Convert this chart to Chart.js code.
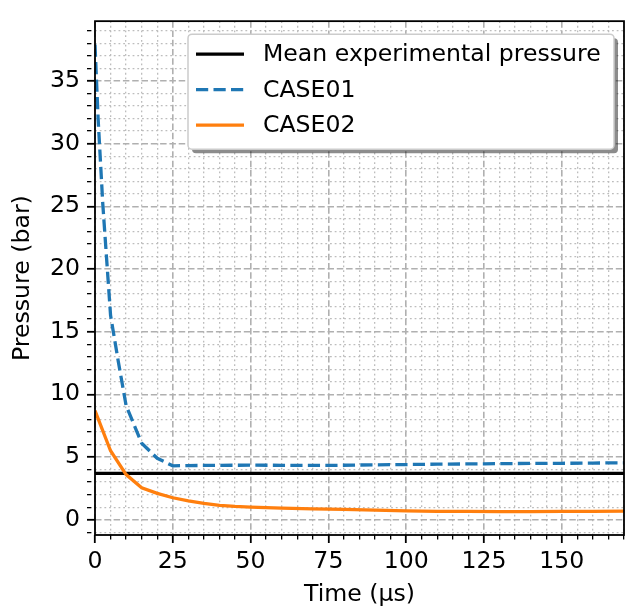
<!DOCTYPE html>
<html lang="en">
<head>
  <meta charset="UTF-8">
  <title>Pressure vs time</title>
  <script src="https://cdn.jsdelivr.net/npm/chart.js"></script>
  <style>
    html, body { margin: 0; padding: 0; background: #fff; }
  </style>
</head>
<body>
  <canvas id="grafico" width="630" height="609"></canvas>

  <script>
    // data
    const meanTime = [0, 170];
    const meanPressure = [3.7, 3.7];

    const timeCase01 = [0, 1, 2.5, 5, 7.5, 10, 15, 20, 25, 30, 40, 50, 60, 75, 90, 100, 110, 125, 140, 150, 160, 170];
    const case01 = [37.9, 32.0, 25.2, 16.3, 12.6, 9.1, 6.1, 4.9, 4.3, 4.32, 4.34, 4.35, 4.34, 4.33, 4.38, 4.4, 4.43, 4.46, 4.49, 4.5, 4.52, 4.54];

    const timeCase02 = [0, 5, 10, 15, 20, 25, 30, 35, 40, 45, 50, 55, 60, 70, 80, 90, 100, 110, 120, 130, 140, 150, 160, 170];
    const case02 = [8.7, 5.5, 3.6, 2.55, 2.1, 1.75, 1.5, 1.3, 1.15, 1.06, 1.0, 0.96, 0.92, 0.87, 0.83, 0.77, 0.7, 0.67, 0.66, 0.65, 0.65, 0.66, 0.67, 0.68];

    // ticks
    const xMajorTicks = [0, 25, 50, 75, 100, 125, 150];
    const yMajorTicks = [0, 5, 10, 15, 20, 25, 30, 35];
    const xMinorStep = 5;
    const yMinorStep = 1;
    const xRange = [0, 170];
    const yRange = [-1.22, 39.77];

    const FONT = 'DejaVu Sans';
    const SIZE = 23.6;
    const toPoints = (xs, ys) => xs.map((x, i) => ({ x: x, y: ys[i] }));
    const stepTicks = (lo, hi, step) => {
      const out = [];
      for (let v = Math.ceil(lo / step) * step; v <= hi; v += step) out.push({ value: v });
      return out;
    };

    function axisStyle(major) {
      const isMajor = ctx => ctx.tick && major.includes(ctx.tick.value);
      return {
        grid: {
          color: ctx => isMajor(ctx) ? '#b0b0b0' : '#bdbdbd',
          lineWidth: ctx => isMajor(ctx) ? 1.6 : 1.3,
          tickColor: '#000',
          tickLength: 8,
          tickWidth: ctx => isMajor(ctx) ? 1.8 : 1.3,
          tickBorderDash: ctx => isMajor(ctx) ? [] : [4.4, 30]
        },
        border: {
          display: false,
          dash: ctx => isMajor(ctx) ? [6.5, 2.8] : [1.8, 2.9]
        }
      };
    }

    // frame on four sides + legend box with shadow
    const framePlugin = {
      id: 'frame',
      afterDraw(chart) {
        const ctx = chart.ctx;
        const a = chart.chartArea;
        ctx.save();
        ctx.strokeStyle = '#000';
        ctx.lineWidth = 1.8;
        ctx.strokeRect(a.left, a.top, a.right - a.left, a.bottom - a.top);

        const bw = 426, bh = 115;
        const bx = a.right - 10 - bw, by = a.top + 13;
        const round = (x, y, w, h, r) => {
          ctx.beginPath();
          ctx.moveTo(x + r, y);
          ctx.arcTo(x + w, y, x + w, y + h, r);
          ctx.arcTo(x + w, y + h, x, y + h, r);
          ctx.arcTo(x, y + h, x, y, r);
          ctx.arcTo(x, y, x + w, y, r);
          ctx.closePath();
        };
        round(bx + 4, by + 4, bw, bh, 4);
        ctx.fillStyle = 'rgba(0,0,0,0.45)';
        ctx.fill();
        round(bx, by, bw, bh, 4);
        ctx.fillStyle = '#fff';
        ctx.fill();
        ctx.strokeStyle = '#cccccc';
        ctx.lineWidth = 1.5;
        ctx.stroke();

        ctx.font = SIZE + 'px "' + FONT + '"';
        ctx.textBaseline = 'middle';
        ctx.fillStyle = '#000';
        chart.data.datasets.forEach((ds, i) => {
          const y = by + 20 + i * 35.5;
          ctx.beginPath();
          ctx.setLineDash(ds.borderDash || []);
          ctx.strokeStyle = ds.borderColor;
          ctx.lineWidth = ds.borderWidth;
          ctx.moveTo(bx + 8, y);
          ctx.lineTo(bx + 56, y);
          ctx.stroke();
          ctx.setLineDash([]);
          ctx.fillText(ds.label, bx + 75, y + 1);
        });
        ctx.restore();
      }
    };

    const xStyle = axisStyle(xMajorTicks);
    const yStyle = axisStyle(yMajorTicks);

    new Chart(document.getElementById('grafico'), {
      type: 'line',
      data: {
        datasets: [
          { label: 'Mean experimental pressure', data: toPoints(meanTime, meanPressure), borderColor: '#000000', borderWidth: 3.3, order: 2 },
          { label: 'CASE01', data: toPoints(timeCase01, case01), borderColor: '#1f77b4', borderWidth: 3.3, borderDash: [12.2, 5.3], order: 1 },
          { label: 'CASE02', data: toPoints(timeCase02, case02), borderColor: '#ff7f0e', borderWidth: 3.3, order: 0 }
        ]
      },
      options: {
        responsive: false,
        animation: false,
        devicePixelRatio: 1,
        layout: { padding: { top: 8, right: 6, left: 0, bottom: 0 } },
        elements: { point: { radius: 0 }, line: { tension: 0, fill: false } },
        plugins: { legend: { display: false }, tooltip: { enabled: false } },
        scales: {
          x: {
            type: 'linear',
            min: xRange[0],
            max: xRange[1],
            afterBuildTicks: s => { s.ticks = stepTicks(xRange[0], xRange[1], xMinorStep); },
            afterFit: s => { s.height = 74; },
            ticks: {
              autoSkip: false,
              maxRotation: 0,
              padding: 5,
              color: '#000',
              font: { family: FONT, size: SIZE },
              callback: v => xMajorTicks.includes(v) ? String(v) : ''
            },
            grid: xStyle.grid,
            border: xStyle.border,
            title: { display: true, text: 'Time (µs)', color: '#000', font: { family: FONT, size: SIZE }, padding: { top: 0, bottom: 0 } }
          },
          y: {
            type: 'linear',
            min: yRange[0],
            max: yRange[1],
            afterBuildTicks: s => { s.ticks = stepTicks(yRange[0], yRange[1], yMinorStep); },
            afterFit: s => { s.width = 95; },
            ticks: {
              autoSkip: false,
              padding: 7,
              color: '#000',
              font: { family: FONT, size: SIZE },
              callback: v => yMajorTicks.includes(v) ? String(v) : ''
            },
            grid: yStyle.grid,
            border: yStyle.border,
            title: { display: true, text: 'Pressure (bar)', color: '#000', font: { family: FONT, size: SIZE }, padding: { top: 9, bottom: 0 } }
          }
        }
      },
      plugins: [framePlugin]
    });
  </script>
</body>
</html>
